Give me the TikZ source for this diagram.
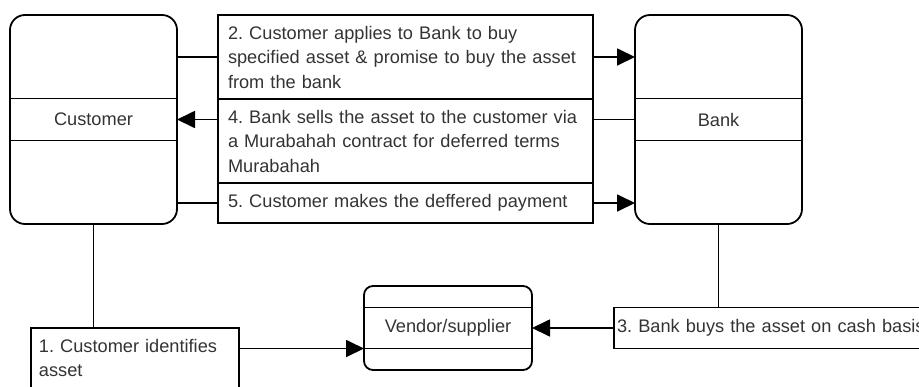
\documentclass[tikz,border=0pt]{standalone}
\usepackage{fontspec}
\setmainfont{Liberation Sans}
\usepackage{tikz}
\usetikzlibrary{positioning,arrows.meta}
\usepackage{xcolor}
\definecolor{txt}{HTML}{333333}
\newcommand\msgfont{\fontsize{9.1pt}{12.25pt}\selectfont\frenchspacing\hyphenpenalty=10000 }

\begin{document}
\begin{tikzpicture}[
    party/.style={draw,line width=0.9pt,rounded corners=7.5pt,minimum width=83.5pt,minimum height=104.5pt,outer sep=0pt},
    band/.style={draw,line width=0.9pt,minimum width=83.5pt,minimum height=21pt,inner sep=0pt,outer sep=0pt,text=txt},
    msg/.style={draw,line width=0.9pt,minimum width=187.5pt,text width=177.5pt,inner xsep=5pt,inner ysep=0pt,align=left,outer sep=0pt,text=txt},
    arr/.style={-{Triangle[length=9pt,width=8.5pt]},line width=0.9pt},
    link/.style={line width=0.9pt},
    font=\msgfont
  ]
    \useasboundingbox (0,0) rectangle (459.5pt,-193pt);

    % Parties
    \node[party] (customer) at (46.75pt,-59.75pt) {};
    \node[band] (customerlbl) at (customer) {Customer};
    \node[party, right=229pt of customer] (bank) {};
    \node[band] (banklbl) at (bank) {Bank};

    % Messages between customer and bank
    \node[msg, minimum height=42pt, anchor=north west] (msg2) at ([xshift=20.5pt]customer.north east) {2. Customer applies to Bank to buy\\specified asset \& promise to buy the asset\\from the bank};
    \node[msg, minimum height=42pt, below=0pt of msg2] (msg4) {4. Bank sells the asset to the customer via\\a Murabahah contract for deferred terms\\Murabahah};
    \node[msg, minimum height=20pt, below=0pt of msg4] (msg5) {5. Customer makes the deffered payment};

    % Vendor side
    \node[party, rounded corners=4.5pt, minimum width=84pt, minimum height=42pt] (vendor) at (224pt,-164pt) {};
    \node[band, minimum width=84pt, minimum height=20.5pt] (vendorlbl) at (vendor) {Vendor/supplier};
    \node[msg, minimum width=104pt, text width=96pt, inner xsep=4pt, minimum height=30pt, anchor=north west] (msg1) at (15.5pt,-164pt) {1. Customer identifies\\asset};
    \node[msg, minimum width=170pt, text width=167pt, inner xsep=1.5pt, minimum height=20.5pt, right=41pt of vendor] (msg3) {3. Bank buys the asset on cash basis};

    % Connectors
    \draw[link] (customer.east |- msg2) -- (msg2.west);
    \draw[arr] (msg2.east) -- (bank.west |- msg2);
    \draw[link] (bank.west) -- (msg4.east |- bank.west);
    \draw[arr] (msg4.west |- customer.east) -- (customer.east);
    \draw[link] (customer.east |- msg5) -- (msg5.west);
    \draw[arr] (msg5.east) -- (bank.west |- msg5);
    \draw[link] (customer.south) -- (customer.south |- msg1.north);
    \draw[arr] (msg1.east |- vendorlbl.south west) -- (vendorlbl.south west);
    \draw[link] (bank.south) -- (bank.south |- msg3.north);
    \draw[arr] (msg3.west) -- (vendor.east |- msg3.west);
  \end{tikzpicture}
\end{document}
